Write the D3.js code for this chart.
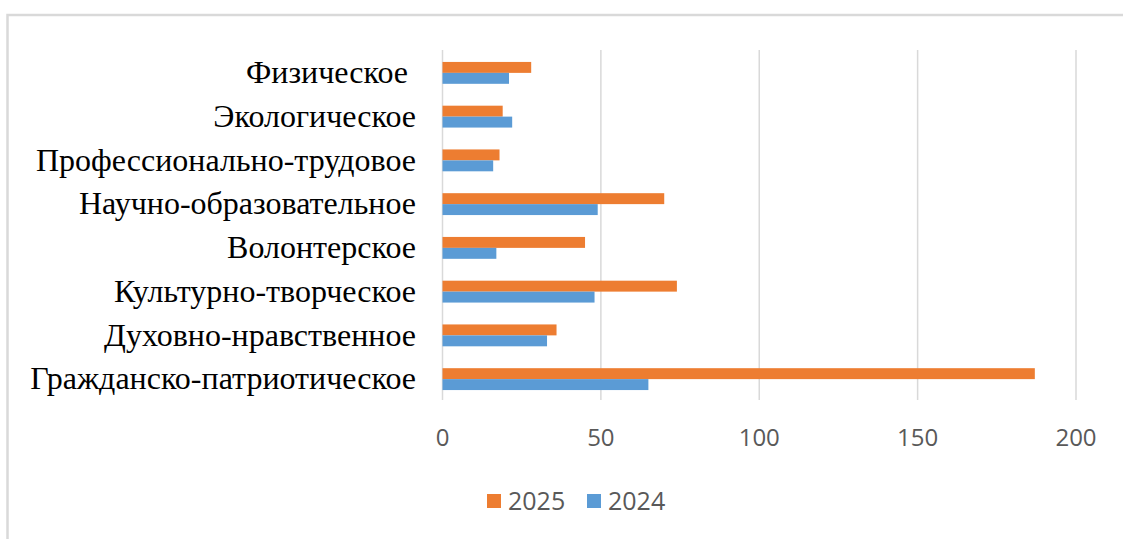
<!DOCTYPE html>
<html>
<head>
<meta charset="utf-8">
<script src="https://cdn.jsdelivr.net/npm/d3@7"></script>
<style>
  body { margin: 0; background: #fff; }
</style>
</head>
<body>
<div id="chart"></div>
<script>
var w = 1123;
var h = 539;

// data, top to bottom
var categories = ["Физическое ", "Экологическое", "Профессионально-трудовое", "Научно-образовательное",
                  "Волонтерское", "Культурно-творческое", "Духовно-нравственное", "Гражданско-патриотическое"];
var values2025 = [28, 19, 18, 70, 45, 74, 36, 187];
var values2024 = [21, 22, 16, 49, 17, 48, 33, 65];
var series = ["2025", "2024"];
var colors = ["#ED7D31", "#5B9BD5"];
var ticks = [0, 50, 100, 150, 200];

var svg = d3.select("#chart")
            .append("svg")
            .attr("width", w)
            .attr("height", h);

// outer frame (only top and left edges visible)
svg.append("path")
   .attr("d", "M7.5,539 L7.5,15 L1123,15")
   .attr("fill", "none")
   .attr("stroke", "#d9d9d9")
   .attr("stroke-width", 2.5);

var x = d3.scaleLinear().domain([0, 200]).range([442.5, 1076]);
var y = d3.scaleBand().domain(categories).range([50, 400]).paddingInner(0).paddingOuter(0);
var sub = d3.scaleBand().domain(series).range([1, y.bandwidth() + 1]).paddingInner(0).paddingOuter(1);

//Gridlines
svg.append("g")
   .selectAll("line")
   .data(ticks)
   .enter()
   .append("line")
   .attr("x1", function(d) { return x(d); })
   .attr("x2", function(d) { return x(d); })
   .attr("y1", 50)
   .attr("y2", 400)
   .attr("stroke", "#d9d9d9")
   .attr("stroke-width", 1.5);

//Tick labels
svg.append("g")
   .selectAll("text")
   .data(ticks)
   .enter()
   .append("text")
   .attr("x", function(d) { return x(d); })
   .attr("y", 446)
   .attr("text-anchor", "middle")
   .style("font-family", "'Open Sans', sans-serif")
   .style("font-size", "24px")
   .style("fill", "#595959")
   .text(function(d) { return d; });

//Bars
var rows = categories.map(function(c, i) {
    return {cat: c, vals: [values2025[i], values2024[i]]};
});

var groups = svg.append("g")
   .selectAll("g")
   .data(rows)
   .enter()
   .append("g")
   .attr("transform", function(d) { return "translate(0," + y(d.cat) + ")"; });

groups.selectAll("rect")
   .data(function(d) { return d.vals.map(function(v, k) { return {s: series[k], v: v, k: k}; }); })
   .enter()
   .append("rect")
   .attr("x", x(0))
   .attr("y", function(d) { return sub(d.s); })
   .attr("width", function(d) { return x(d.v) - x(0); })
   .attr("height", sub.bandwidth())
   .style("fill", function(d) { return colors[d.k]; });

//Category labels
svg.append("g")
   .selectAll("text")
   .data(categories)
   .enter()
   .append("text")
   .attr("x", 416)
   .attr("y", function(d) { return y(d) + y.bandwidth() / 2; })
   .attr("dy", "0.35em")
   .attr("text-anchor", "end")
   .style("white-space", "pre")
   .style("font-family", "'Liberation Serif', 'Times New Roman', serif")
   .style("font-size", "32px")
   .style("fill", "#000")
   .text(function(d) { return d; });

//Legend
var legend = svg.append("g");
var legendX = [487, 587];
series.forEach(function(s, i) {
    legend.append("rect")
          .attr("x", legendX[i])
          .attr("y", 494)
          .attr("width", 14)
          .attr("height", 14)
          .style("fill", colors[i]);
    legend.append("text")
          .attr("x", legendX[i] + 21)
          .attr("y", 510)
          .style("font-family", "'Open Sans', sans-serif")
          .style("font-size", "25px")
          .style("fill", "#595959")
          .text(s);
});
</script>
</body>
</html>
